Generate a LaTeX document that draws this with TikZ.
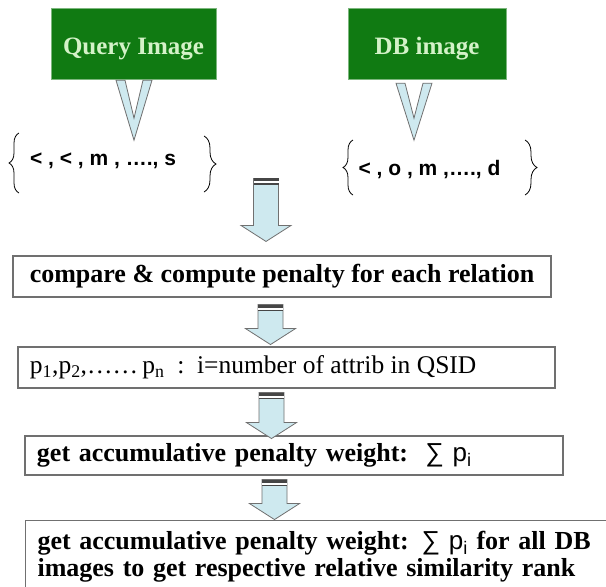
\documentclass[tikz,border=0pt]{standalone}
\usepackage{fontspec}
\setmainfont{Liberation Serif}
\setsansfont{Liberation Sans}
\usetikzlibrary{calc,decorations.pathreplacing}

\definecolor{imggreen}{RGB}{16,122,18}
\definecolor{imgtext}{RGB}{212,242,200}
\definecolor{arrowblue}{RGB}{206,233,239}
\definecolor{edgegray}{RGB}{112,112,112}
\definecolor{stripegray}{RGB}{70,70,70}

\tikzset{
  imgbox/.style={draw=imggreen!55!white, fill=imggreen, text=imgtext,
    font=\fontsize{25}{30}\selectfont\bfseries, minimum height=71pt, inner sep=0pt,
    text height=24pt, text depth=3pt},
  stepbox/.style={draw=edgegray, line width=1.1pt, fill=white, inner sep=0pt,
    font=\fontsize{26}{27}\selectfont\bfseries},
  setlabel/.style={font=\fontsize{21}{24}\selectfont\sffamily\bfseries, inner sep=0pt},
  setbrace/.style={decorate, decoration={brace, amplitude=#1}, line width=0.8pt},
  chevron/.style={fill=arrowblue, draw=edgegray, line width=0.8pt}
}

% down arrow with the striped top: #1 top centre, #2 length
\newcommand{\stripearrow}[2]{%
  \begin{scope}[shift={#1}]
    \filldraw[fill=arrowblue, draw=edgegray, line width=0.8pt]
      (-12.5,0) -- (12.5,0) -- (12.5,#2-16) -- (25,#2-16) -- (0,#2)
      -- (-25,#2-16) -- (-12.5,#2-16) -- cycle;
    \fill[stripegray] (-12.5,0) rectangle (12.5,3);
    \fill[white] (-12.5,3) rectangle (12.5,5);
    \fill[stripegray] (-12.5,5) rectangle (12.5,6.5);
  \end{scope}}

% V shaped pointer: #1 top centre, #2 length
\newcommand{\vpointer}[2]{%
  \filldraw[chevron, shift={#1}]
    (-18,0) -- (0,#2) -- (18,0) -- (9,0) -- (0,#2-22) -- (-9,0) -- cycle;}

\begin{document}
\begin{tikzpicture}[x=1pt,y=-1pt]
\useasboundingbox (0,0) rectangle (606,587);
\clip (0,0) rectangle (606,587);
\fill[white] (0,0) rectangle (606,587);

% the two images
\node[imgbox, minimum width=165pt] (query) at (133.5,43.5) {Query Image};
\node[imgbox, minimum width=158pt] (dbimg) at (427,43.5) {DB image};

\vpointer{($(query.south)+(0.5,1)$)}{60}
\vpointer{($(dbimg.south)+(-13,4)$)}{57}

% relation sets
\node[setlabel] (qset) at (103,161) {< , < , m , …., s};
\node[setlabel] (dbset) at (429.5,170) {< , o , m ,…., d};

\draw[setbrace=10pt] (19,193) -- (19,133);
\draw[setbrace=12pt] (204,136) -- (204,192);
\draw[setbrace=10pt] (353,195) -- (353,140);
\draw[setbrace=12pt] (525,140) -- (525,195);

% steps
\node[stepbox, minimum width=538pt, minimum height=41pt, align=center]
  (cmp) at (282,276.5) {compare \& compute penalty for each relation};
\node[stepbox, minimum height=41pt, inner xsep=12pt, font=\fontsize{25.5}{27}\selectfont]
  (pen) at (286.5,367.5) {\makebox[513pt][l]{p\textsubscript{1},p\textsubscript{2},\dots\dots\,p\textsubscript{n}\ \ :\ \ i=number of attrib in QSID}};
\node[stepbox, text width=514pt, minimum height=39pt, inner xsep=12pt, align=left]
  (acc) at (294,455.5) {get accumulative penalty weight:\ \ {\sffamily\mdseries ∑ p\textsubscript{i}}};
\node[stepbox, text width=576pt, inner xsep=12pt, inner ysep=11pt, align=left, anchor=north west]
  (rank) at (25,520) {get accumulative penalty weight: {\sffamily\mdseries ∑ p\textsubscript{i}} for all DB\\
  images to get respective relative similarity rank};

% arrows between the steps
\stripearrow{($(cmp.north)+(-16,-77)$)}{63}
\stripearrow{($(cmp.south)+(-11.5,7)$)}{40}
\stripearrow{($(pen.south)+(-15,4)$)}{46}
\stripearrow{($(acc.south)+(-19.5,4)$)}{40}
\end{tikzpicture}
\end{document}
